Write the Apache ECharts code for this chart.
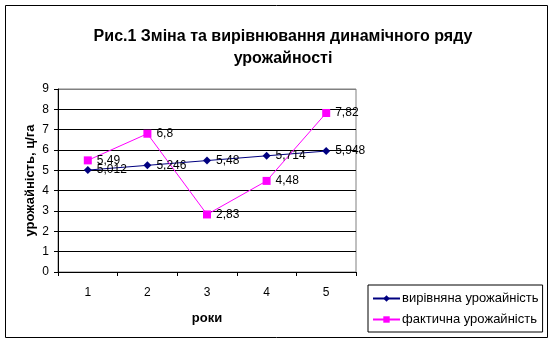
<!DOCTYPE html>
<html>
<head>
<meta charset="utf-8">
<script src="https://cdn.jsdelivr.net/npm/echarts@6/dist/echarts.min.js"></script>
<style>
html,body{margin:0;padding:0;background:#fff;}
#c{width:555px;height:344px;}
</style>
</head>
<body>
<div id="c"></div>
<script>
// Years and yield series (ц/га)
const years = ['1', '2', '3', '4', '5'];
const fitted = [5.012, 5.246, 5.48, 5.714, 5.948];
const actual = [5.49, 6.8, 2.83, 4.48, 7.82];
const yTicks = [0, 1, 2, 3, 4, 5, 6, 7, 8, 9];

const FONT = '"Liberation Sans", Arial, sans-serif';
const comma = p => String(p.value).replace('.', ',');

const chart = echarts.init(document.getElementById('c'), null, {renderer: 'canvas'});
chart.setOption({
  animation: false,
  backgroundColor: '#fff',
  title: {
    text: 'Рис.1 Зміна та вирівнювання динамічного ряду\nурожайності',
    left: 278, top: 21, textAlign: 'center',
    textStyle: {fontFamily: FONT, fontSize: 16, fontWeight: 'bold', color: '#000', lineHeight: 22}
  },
  graphic: [{
    type: 'rect', shape: {x: 5.5, y: 5.5, width: 542, height: 332},
    style: {fill: 'none', stroke: '#000', lineWidth: 1}, z: -1
  }],
  legend: {
    orient: 'vertical', left: 368, top: 285,
    padding: [7, 4, 6, 4], itemGap: 8, itemWidth: 27, itemHeight: 8,
    borderColor: '#000', borderWidth: 1, backgroundColor: '#fff',
    textStyle: {fontFamily: FONT, fontSize: 13, color: '#000', padding: [0, 0, 0, -3]},
    data: ['вирівняна урожайність', 'фактична урожайність']
  },
  grid: {left: 58, right: 199, top: 89, bottom: 72, show: true, borderColor: '#808080', borderWidth: 1},
  xAxis: {
    type: 'category', data: years, boundaryGap: true,
    name: 'роки', nameLocation: 'middle', nameGap: 40, nameMoveOverlap: false,
    nameTextStyle: {fontFamily: FONT, fontSize: 13, fontWeight: 'bold', color: '#000'},
    axisLine: {lineStyle: {color: '#000'}},
    axisTick: {show: true, length: 4, alignWithLabel: false, lineStyle: {color: '#000'}},
    axisLabel: {fontFamily: FONT, fontSize: 12, color: '#000', margin: 15}
  },
  yAxis: {
    type: 'value', min: yTicks[0], max: yTicks[yTicks.length - 1], interval: 1,
    name: 'урожайність, ц/га', nameLocation: 'middle', nameGap: 21, nameRotate: 90,
    nameMoveOverlap: false,
    nameTextStyle: {fontFamily: FONT, fontSize: 13, fontWeight: 'bold', color: '#000'},
    axisLine: {show: true, lineStyle: {color: '#000'}},
    axisTick: {show: true, length: 4, lineStyle: {color: '#000'}},
    axisLabel: {fontFamily: FONT, fontSize: 12, color: '#000', margin: 9},
    splitLine: {show: true, lineStyle: {color: ['#000', '#000', '#000', '#000', '#000', '#000', '#000', '#000', '#000', '#808080'], width: 1}}
  },
  series: [{
    name: 'вирівняна урожайність', type: 'line', data: fitted,
    symbol: 'diamond', symbolSize: 8,
    lineStyle: {color: '#000080', width: 1}, itemStyle: {color: '#000080'},
    label: {show: true, position: 'right', distance: 5, formatter: comma,
      fontFamily: FONT, fontSize: 12, color: '#000'}
  }, {
    name: 'фактична урожайність', type: 'line', data: actual,
    symbol: 'rect', symbolSize: 8,
    lineStyle: {color: '#FF00FF', width: 1}, itemStyle: {color: '#FF00FF'},
    label: {show: true, position: 'right', distance: 5, formatter: comma,
      fontFamily: FONT, fontSize: 12, color: '#000'}
  }]
});
</script>
</body>
</html>
